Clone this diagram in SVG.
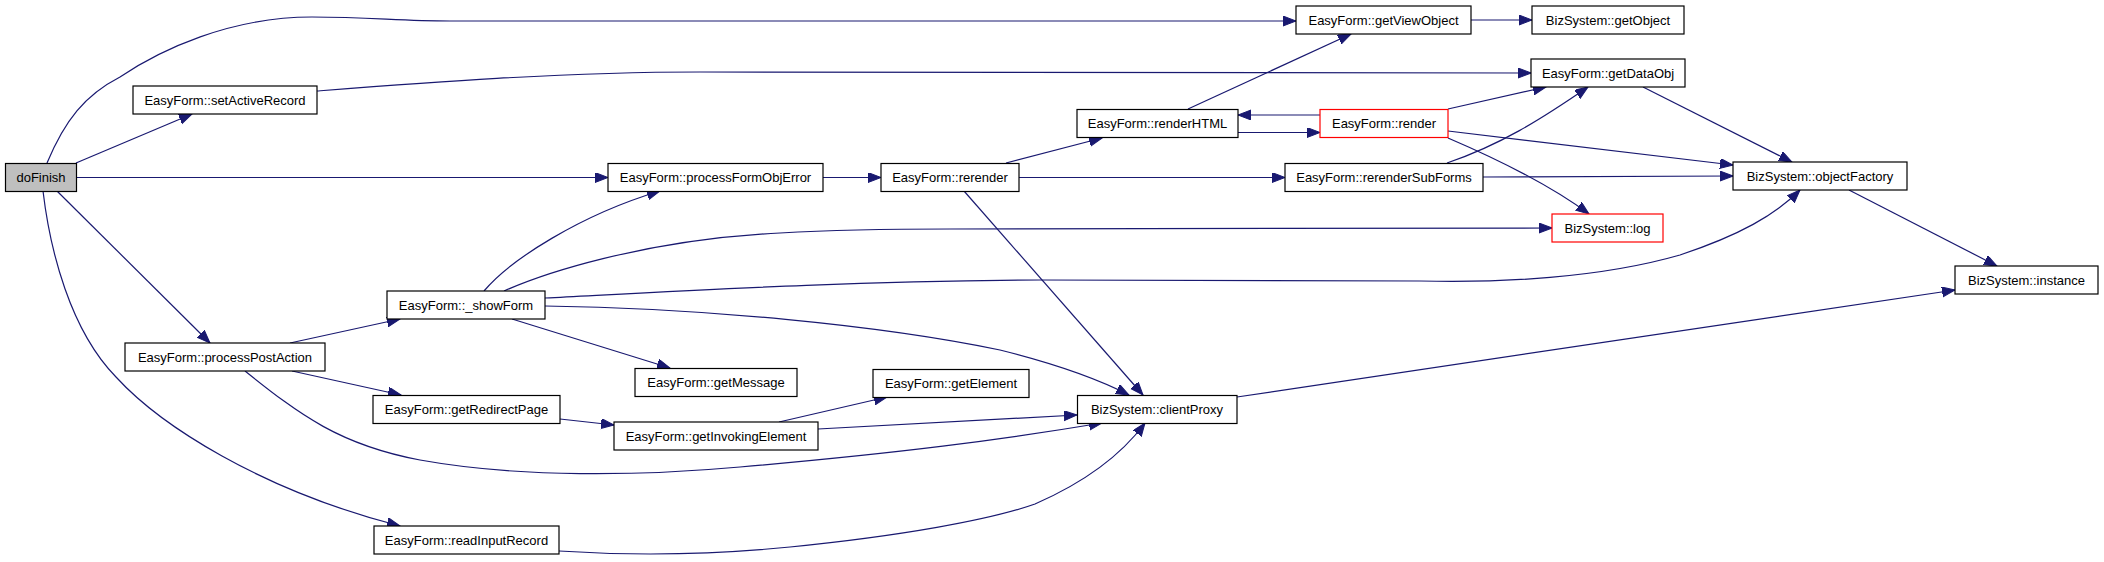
<svg xmlns="http://www.w3.org/2000/svg" width="2104" height="562" viewBox="0 0 2104 562">
<defs>
<marker id="ah" markerUnits="userSpaceOnUse" markerWidth="14" markerHeight="11" refX="13" refY="5" orient="auto">
<path d="M0,0 L13,5 L0,10 z" fill="#191970" stroke="#191970" stroke-width="1"/>
</marker>
<style>
.n rect{fill:#ffffff;stroke:#000000;stroke-width:1.2}
.n.root rect{fill:#bfbfbf}
.n.red rect{stroke:#ff0000}
.n text{font-family:"Liberation Sans",Arial,sans-serif;font-size:13px;fill:#000;text-anchor:middle}
#edges path{fill:none;stroke:#191970;stroke-width:1.2;marker-end:url(#ah)}
</style>
</defs>
<rect width="2104" height="562" fill="#ffffff"/>
<g id="edges">
<path d="M47,163 C65,120 85,95 120,77 C160,50 230,17 312,17 C370,17 400,21 450,21 L1296,21"/>
<path d="M76,163 L192,114"/>
<path d="M317,91 C420,83 560,72 700,72 L1531,73"/>
<path d="M77,177.5 L608,177.5"/>
<path d="M57,191 L210,343"/>
<path d="M43,191 C50,250 70,330 116,377 C160,425 260,490 400,526"/>
<path d="M290,343 L400,319"/>
<path d="M292,371 L401,395"/>
<path d="M245,371 C300,415 340,445 420,460 C520,478 640,476 740,467 C900,453 1000,440 1102,423"/>
<path d="M560,419 L614,425"/>
<path d="M779,422 L887,397"/>
<path d="M818,429 L1077,415"/>
<path d="M559,551 C620,555 700,556 790,547 C900,536 990,520 1035,504 C1090,480 1125,450 1145,423"/>
<path d="M484,291 C510,260 580,215 660,191"/>
<path d="M504,291 C540,275 640,240 780,233 C850,229 900,229 950,229 L1552,228"/>
<path d="M545,298 C700,290 850,281 1040,280 L1420,281 C1500,283 1600,278 1680,255 C1740,235 1775,215 1800,190"/>
<path d="M512,319 L670,368"/>
<path d="M545,306 C700,308 880,325 1000,350 C1060,365 1100,380 1129,395"/>
<path d="M964,191 L1143,395"/>
<path d="M823,177.5 L881,177.5"/>
<path d="M1006,163 L1102,138"/>
<path d="M1019,177.5 L1285,177.5"/>
<path d="M1188,109 L1351,34"/>
<path d="M1238,132.5 L1320,132.5"/>
<path d="M1320,115 L1238,115"/>
<path d="M1448,109 L1546,87"/>
<path d="M1448,131 L1733,165"/>
<path d="M1448,138 C1490,156 1550,185 1589,214"/>
<path d="M1447,163 C1500,145 1540,120 1588,87"/>
<path d="M1483,177 L1733,176"/>
<path d="M1643,87 L1792,162"/>
<path d="M1849,190 L1997,266"/>
<path d="M1237,397 L1955,290"/>
<path d="M1471,20 L1532,20"/>
</g>
<g id="doFinish" class="n root"><rect x="5.5" y="163.5" width="71" height="28"/><text x="41" y="182">doFinish</text></g>
<g id="setActiveRecord" class="n"><rect x="133" y="86" width="184" height="28"/><text x="225" y="104.5">EasyForm::setActiveRecord</text></g>
<g id="getViewObject" class="n"><rect x="1296" y="6" width="175" height="28"/><text x="1383.5" y="24.5">EasyForm::getViewObject</text></g>
<g id="getObject" class="n"><rect x="1532" y="6" width="152" height="28"/><text x="1608" y="24.5">BizSystem::getObject</text></g>
<g id="getDataObj" class="n"><rect x="1531" y="59" width="154" height="28"/><text x="1608" y="77.5">EasyForm::getDataObj</text></g>
<g id="renderHTML" class="n"><rect x="1077" y="109.5" width="161" height="28"/><text x="1157.5" y="128">EasyForm::renderHTML</text></g>
<g id="render" class="n red"><rect x="1320" y="109.5" width="128" height="28"/><text x="1384" y="128">EasyForm::render</text></g>
<g id="processFormObjError" class="n"><rect x="608" y="163.5" width="215" height="28"/><text x="715.5" y="182">EasyForm::processFormObjError</text></g>
<g id="rerender" class="n"><rect x="881" y="163.5" width="138" height="28"/><text x="950" y="182">EasyForm::rerender</text></g>
<g id="rerenderSubForms" class="n"><rect x="1285" y="163.5" width="198" height="28"/><text x="1384" y="182">EasyForm::rerenderSubForms</text></g>
<g id="objectFactory" class="n"><rect x="1733" y="162" width="174" height="28"/><text x="1820" y="180.5">BizSystem::objectFactory</text></g>
<g id="log" class="n red"><rect x="1552" y="214" width="111" height="28"/><text x="1607.5" y="232.5">BizSystem::log</text></g>
<g id="instance" class="n"><rect x="1955" y="266" width="143" height="28"/><text x="2026.5" y="284.5">BizSystem::instance</text></g>
<g id="showForm" class="n"><rect x="387" y="291" width="158" height="28"/><text x="466" y="309.5">EasyForm::_showForm</text></g>
<g id="processPostAction" class="n"><rect x="125" y="343" width="200" height="28"/><text x="225" y="361.5">EasyForm::processPostAction</text></g>
<g id="getMessage" class="n"><rect x="635" y="368.5" width="162" height="28"/><text x="716" y="387">EasyForm::getMessage</text></g>
<g id="getElement" class="n"><rect x="873" y="369.5" width="156" height="28"/><text x="951" y="388">EasyForm::getElement</text></g>
<g id="getRedirectPage" class="n"><rect x="373" y="395.5" width="187" height="28"/><text x="466.5" y="414">EasyForm::getRedirectPage</text></g>
<g id="getInvokingElement" class="n"><rect x="614" y="422" width="204" height="28"/><text x="716" y="440.5">EasyForm::getInvokingElement</text></g>
<g id="clientProxy" class="n"><rect x="1077.5" y="395.5" width="159.5" height="28"/><text x="1157" y="414">BizSystem::clientProxy</text></g>
<g id="readInputRecord" class="n"><rect x="374" y="526" width="185" height="28"/><text x="466.5" y="544.5">EasyForm::readInputRecord</text></g>
</svg>
